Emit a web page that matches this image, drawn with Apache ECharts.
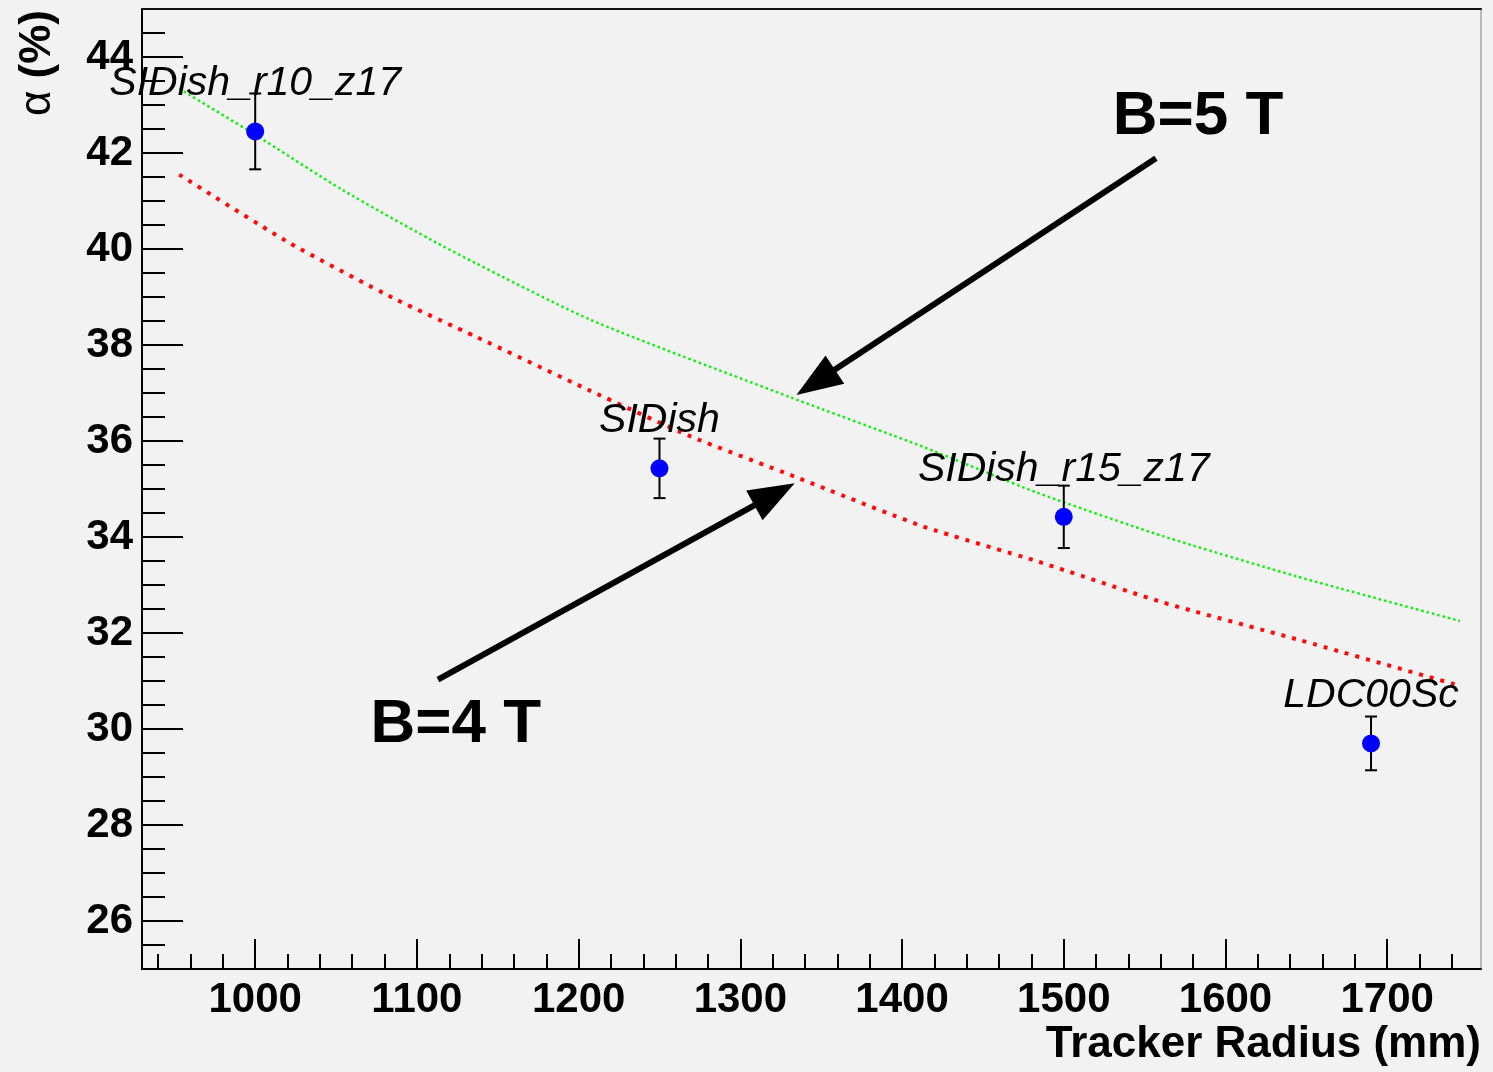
<!DOCTYPE html>
<html><head><meta charset="utf-8">
<script src="https://cdn.jsdelivr.net/npm/echarts@6/dist/echarts.min.js"></script>
<style>html,body{margin:0;padding:0;background:#f2f2f2}#c{width:1493px;height:1072px}</style>
</head><body><div id="c"></div>
<script>
// ---- data ----
const xTicks = [1000, 1100, 1200, 1300, 1400, 1500, 1600, 1700];
const xMinorTicks = [940, 960, 980, 1020, 1040, 1060, 1080, 1120, 1140, 1160, 1180, 1220, 1240, 1260, 1280,
  1320, 1340, 1360, 1380, 1420, 1440, 1460, 1480, 1520, 1540, 1560, 1580, 1620, 1640, 1660, 1680, 1720, 1740];
const yTicks = [26, 28, 30, 32, 34, 36, 38, 40, 42, 44];
const yMinorTicks = [25.5, 26.5, 27, 27.5, 28.5, 29, 29.5, 30.5, 31, 31.5, 32.5, 33, 33.5, 34.5, 35, 35.5,
  36.5, 37, 37.5, 38.5, 39, 39.5, 40.5, 41, 41.5, 42.5, 43, 43.5, 44.5];

const detNames = ['SIDish_r10_z17', 'SIDish', 'SIDish_r15_z17', 'LDC00Sc'];
const detRadius = [1000, 1250, 1500, 1690];
const detAlpha = [42.45, 35.43, 34.42, 29.70];
const detErr = [0.79, 0.62, 0.65, 0.56];

const b5X = [953, 1000, 1054, 1116, 1207, 1331, 1413, 1483, 1561, 1644, 1745];
const b5Y = [43.34, 42.38, 41.23, 40.06, 38.53, 36.91, 35.88, 34.93, 34.02, 33.18, 32.25];
const b4X = [953, 1021, 1087, 1136, 1207, 1269, 1335, 1413, 1483, 1561, 1644, 1745];
const b4Y = [41.55, 40.13, 38.95, 38.18, 37.05, 36.10, 35.24, 34.22, 33.50, 32.64, 31.87, 30.90];

const arrowLabels = ['B=5 T', 'B=4 T'];
const arrowLabelPos = [[1583, 42.76], [1124, 30.08]];
const arrowFrom = [[1557, 41.89], [1113, 31.03]];
const arrowTo = [[1334.7, 36.96], [1333.6, 35.12]];

const FONT = 'Liberation Sans';

const chart = echarts.init(document.getElementById('c'), null, {renderer: 'canvas'});

const pairs = (xs, ys) => xs.map((x, i) => [x, ys[i]]);
const plain = v => String(v);

const option = {
  backgroundColor: '#f2f2f2',
  animation: false,
  grid: {left: 142, right: 12, top: 9, bottom: 103, containLabel: false},
  xAxis: [
    {
      type: 'value', min: 930, max: 1758, position: 'bottom',
      axisLine: {show: true, onZero: false, lineStyle: {color: '#000', width: 2}},
      axisTick: {show: true, inside: true, length: 30, customValues: xTicks, lineStyle: {color: '#000', width: 2}},
      axisLabel: {show: true, customValues: xTicks, formatter: plain, margin: 10, color: '#000',
        fontFamily: FONT, fontWeight: 'bold', fontSize: 42},
      splitLine: {show: false}
    },
    {
      type: 'value', min: 930, max: 1758, position: 'bottom',
      axisLine: {show: false},
      axisTick: {show: true, inside: true, length: 15, customValues: xMinorTicks, lineStyle: {color: '#000', width: 2}},
      axisLabel: {show: false},
      splitLine: {show: false}
    },
    {
      type: 'value', min: 930, max: 1758, position: 'top',
      axisLine: {show: true, onZero: false, lineStyle: {color: '#111', width: 2}},
      axisTick: {show: false}, axisLabel: {show: false}, splitLine: {show: false}
    }
  ],
  yAxis: [
    {
      type: 'value', min: 25, max: 45, position: 'left',
      axisLine: {show: true, onZero: false, lineStyle: {color: '#000', width: 2}},
      axisTick: {show: true, inside: true, length: 41, customValues: yTicks, lineStyle: {color: '#000', width: 2}},
      axisLabel: {show: true, customValues: yTicks, formatter: plain, margin: 9, color: '#000',
        fontFamily: FONT, fontWeight: 'bold', fontSize: 42},
      splitLine: {show: false}
    },
    {
      type: 'value', min: 25, max: 45, position: 'left',
      axisLine: {show: false},
      axisTick: {show: true, inside: true, length: 23, customValues: yMinorTicks, lineStyle: {color: '#000', width: 2}},
      axisLabel: {show: false}, splitLine: {show: false}
    },
    {
      type: 'value', min: 25, max: 45, position: 'right',
      axisLine: {show: true, onZero: false, lineStyle: {color: '#b8b8b8', width: 2}},
      axisTick: {show: false}, axisLabel: {show: false}, splitLine: {show: false}
    }
  ],
  graphic: [
    {
      type: 'text', x: 1481, y: 1045, z: 100,
      style: {text: 'Tracker Radius (mm)', font: 'bold 44px "Liberation Sans"', fill: '#000',
        align: 'right', verticalAlign: 'middle'}
    },
    {
      type: 'text', x: 38, y: 10, rotation: Math.PI / 2, z: 100,
      style: {text: '{a|α }{b|(%)}', align: 'right', verticalAlign: 'middle', fill: '#000',
        rich: {a: {font: '44px "Liberation Sans"', fill: '#000'}, b: {font: 'bold 44px "Liberation Sans"', fill: '#000'}}}
    }
  ],
  series: [
    {
      name: 'B=5 T', type: 'line', xAxisIndex: 0, yAxisIndex: 0,
      data: pairs(b5X, b5Y), smooth: 0.2, showSymbol: false, symbol: 'none',
      lineStyle: {color: '#10f010', width: 2.5, type: [2.5, 3]}, z: 3
    },
    {
      name: 'B=4 T', type: 'line', xAxisIndex: 0, yAxisIndex: 0,
      data: pairs(b4X, b4Y), smooth: 0.2, showSymbol: false, symbol: 'none',
      lineStyle: {color: '#ff0a0a', width: 4, type: [4, 7]}, z: 3
    },
    {
      name: 'errors', type: 'custom', xAxisIndex: 0, yAxisIndex: 0, z: 4,
      data: detRadius.map((x, i) => [x, detAlpha[i] - detErr[i], detAlpha[i] + detErr[i]]),
      renderItem: function (params, api) {
        const lo = api.coord([api.value(0), api.value(1)]);
        const hi = api.coord([api.value(0), api.value(2)]);
        const cap = 6;
        const st = {stroke: '#000', lineWidth: 2};
        return {
          type: 'group',
          children: [
            {type: 'line', shape: {x1: lo[0], y1: lo[1], x2: hi[0], y2: hi[1]}, style: st},
            {type: 'line', shape: {x1: lo[0] - cap, y1: lo[1], x2: lo[0] + cap, y2: lo[1]}, style: st},
            {type: 'line', shape: {x1: hi[0] - cap, y1: hi[1], x2: hi[0] + cap, y2: hi[1]}, style: st}
          ]
        };
      }
    },
    {
      name: 'detectors', type: 'scatter', xAxisIndex: 0, yAxisIndex: 0, z: 5,
      data: pairs(detRadius, detAlpha), symbol: 'circle', symbolSize: 18,
      itemStyle: {color: '#0000ff', opacity: 1},
      label: {show: true, position: 'top', distance: 18,
        formatter: p => detNames[p.dataIndex],
        fontFamily: FONT, fontStyle: 'italic', fontSize: 41, color: '#000'}
    },
    {
      name: 'arrows', type: 'custom', xAxisIndex: 0, yAxisIndex: 0, z: 6, silent: true,
      data: arrowFrom.map((f, i) => [f[0], f[1], arrowTo[i][0], arrowTo[i][1]]),
      renderItem: function (params, api) {
        const a = api.coord([api.value(0), api.value(1)]);
        const b = api.coord([api.value(2), api.value(3)]);
        const dx = b[0] - a[0], dy = b[1] - a[1];
        const len = Math.sqrt(dx * dx + dy * dy);
        const ux = dx / len, uy = dy / len;
        const headLen = 46, headW = 34;
        const bx = b[0] - ux * headLen, by = b[1] - uy * headLen;
        const px = -uy * headW / 2, py = ux * headW / 2;
        return {
          type: 'group',
          children: [
            {type: 'line', shape: {x1: a[0], y1: a[1], x2: bx + ux * 4, y2: by + uy * 4},
              style: {stroke: '#000', lineWidth: 6}},
            {type: 'polygon', shape: {points: [[b[0], b[1]], [bx + px, by + py], [bx - px, by - py]]},
              style: {fill: '#000'}}
          ]
        };
      }
    },
    {
      name: 'annotations', type: 'line', xAxisIndex: 0, yAxisIndex: 0, z: 6,
      data: [], silent: true,
      markPoint: {
        silent: true, animation: false,
        symbol: 'circle', symbolSize: 0,
        itemStyle: {color: 'transparent'},
        label: {show: true, position: 'inside', formatter: p => p.name,
          fontFamily: FONT, fontWeight: 'bold', fontSize: 62, color: '#000'},
        data: arrowLabels.map((t, i) => ({name: t, coord: arrowLabelPos[i]}))
      }
    }
  ]
};
chart.setOption(option);
</script>
</body></html>
